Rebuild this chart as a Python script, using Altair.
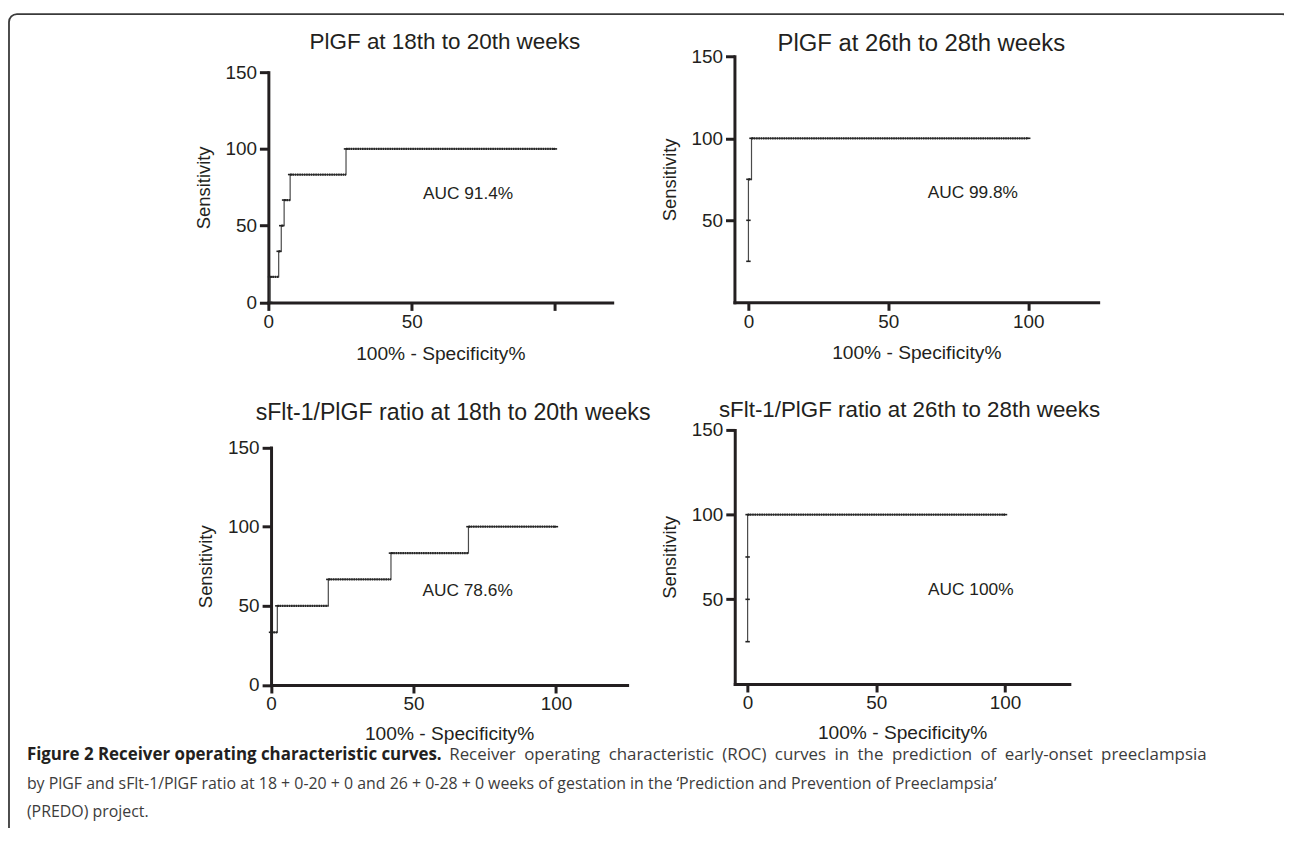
import altair as alt
import pandas as pd

# ---------------- data ----------------
# ROC points: x = 100% - Specificity%, y = Sensitivity
p1_fpr = [0.6, 0.6, 3.6, 4.5, 5.5, 7.6, 27.1, 100]
p1_sens = [0, 16.7, 33.3, 50, 66.7, 83.3, 100, 100]

p2_fpr = [0, 0, 0, 1.1, 100]
p2_sens = [25, 50, 75, 100, 100]

p3_fpr = [0, 2.2, 20.1, 42.1, 69.3, 100]
p3_sens = [33.3, 50, 66.7, 83.3, 100, 100]

p4_fpr = [0, 0, 0, 0, 100]
p4_sens = [25, 50, 75, 100, 100]

titles = [
    "PlGF at 18th to 20th weeks",
    "PlGF at 26th to 28th weeks",
    "sFlt-1/PlGF ratio at 18th to 20th weeks",
    "sFlt-1/PlGF ratio at 26th to 28th weeks",
]
auc_labels = ["AUC 91.4%", "AUC 99.8%", "AUC 78.6%", "AUC 100%"]

x_title = "100% - Specificity%"
y_title = "Sensitivity"

caption_bold = "Figure 2 Receiver operating characteristic curves."
# first caption line is justified in the original (slightly wider word gaps)
caption_first = "\u2002".join(
    "Receiver operating characteristic (ROC) curves in the prediction of early-onset preeclampsia".split(" "))
caption_lines = [
    caption_first,
    "by PlGF and sFlt-1/PlGF ratio at 18 + 0-20 + 0 and 26 + 0-28 + 0 weeks of gestation in the \u2018Prediction and Prevention of Preeclampsia\u2019",
    "(PREDO) project.",
]

# ---------------- layout ----------------
W, H = 1284, 820
AX = "#231f20"
FONT = "Liberation Sans"

panels = [
    dict(fpr=p1_fpr, sens=p1_sens, xdom=[0, 120], xr=[262, 608], ydom=[0, 150], yr=[293.7, 62],
         xvals=[0, 50, 100], yvals=[0, 50, 100, 150], hide100=True, tpad=13,
         title_xy=(61.6, 169.8), title_size=22.6, auc_xy=(69.7, 70.5)),
    dict(fpr=p2_fpr, sens=p2_sens, xdom=[-5, 125], xr=[731, 1097], ydom=[0, 150], yr=[293.6, 46],
         xvals=[0, 50, 100], yvals=[50, 100, 150], hide100=False, tpad=13,
         title_xy=(61.8, 157.2), title_size=24, auc_xy=(80.2, 66.7)),
    dict(fpr=p3_fpr, sens=p3_sens, xdom=[0, 125], xr=[264.7, 623], ydom=[0, 150], yr=[678.7, 439.7],
         xvals=[0, 50, 100], yvals=[0, 50, 100, 150], hide100=False, tpad=11,
         title_xy=(63.9, 172.0), title_size=23.3, auc_xy=(69.0, 59.6)),
    dict(fpr=p4_fpr, sens=p4_sens, xdom=[-5, 125], xr=[731.3, 1068], ydom=[0, 150], yr=[677.7, 422],
         xvals=[0, 50, 100], yvals=[50, 100, 150], hide100=False, tpad=11,
         title_xy=(62.9, 161.7), title_size=22.5, auc_xy=(86.7, 55.2)),
]


def make_panel(i, p):
    pts = pd.DataFrame({"fpr": p["fpr"], "sens": p["sens"]})
    sx, sx2, sy = [], [], []
    for k in range(len(p["fpr"]) - 1):
        if p["fpr"][k + 1] > p["fpr"][k]:
            sx.append(p["fpr"][k])
            sx2.append(p["fpr"][k + 1])
            sy.append(p["sens"][k])
    segs = pd.DataFrame({"fpr": sx, "fpr2": sx2, "sens": sy})

    xs = alt.Scale(domain=p["xdom"], range=p["xr"], nice=False, zero=False)
    ys = alt.Scale(domain=p["ydom"], range=p["yr"], nice=False, zero=False)
    common = dict(grid=False, domainColor=AX, domainWidth=3, domainCap="square",
                  tickColor=AX, tickWidth=3,
                  labelFont=FONT, labelFontSize=19, labelColor=AX,
                  titleFont=FONT, titleFontWeight="normal", titleColor=AX)
    xaxis = alt.Axis(orient="bottom", offset=p["yr"][0] - H, values=p["xvals"], labelFlush=False,
                     labelExpr="datum.value == 100 ? '' : datum.label" if p["hide100"] else "datum.label",
                     tickSize=8, labelPadding=2, titleFontSize=19.3, titlePadding=p["tpad"], **common)
    yaxis = alt.Axis(orient="left", offset=-p["xr"][0], values=p["yvals"], tickSize=9, labelPadding=3,
                     titleFontSize=18.5, titlePadding=12, **common)

    X = lambda f: alt.X(f, type="quantitative", scale=xs, axis=xaxis, title=x_title)
    Y = lambda f: alt.Y(f, type="quantitative", scale=ys, axis=yaxis, title=y_title)

    line = alt.Chart(pts).mark_line(interpolate="step-after", color="#4a4a4a", strokeWidth=1.2).encode(
        x=X("fpr"), y=Y("sens"))
    marks = alt.Chart(pts).mark_point(shape="stroke", size=20, strokeWidth=1.6, color="#222",
                                      filled=False, opacity=1).encode(x=X("fpr"), y=Y("sens"))
    dots = alt.Chart(segs).mark_rule(strokeWidth=2.2, strokeDash=[1.6, 0.7], color="#262626").encode(
        x=X("fpr"), x2="fpr2", y=Y("sens"))

    ann = pd.DataFrame({"label": [auc_labels[i]], "ax": [p["auc_xy"][0]], "ay": [p["auc_xy"][1]],
                        "title": [titles[i]], "tx": [p["title_xy"][0]], "ty": [p["title_xy"][1]]})
    auc = alt.Chart(ann).mark_text(font=FONT, fontSize=17.4, color=AX, baseline="middle").encode(
        x=X("ax"), y=Y("ay"), text="label:N")
    ttl = alt.Chart(ann).mark_text(font=FONT, fontSize=p["title_size"], color=AX, baseline="middle").encode(
        x=X("tx"), y=Y("ty"), text="title:N")
    return alt.layer(line, dots, marks, auc, ttl)


layers = [make_panel(i, p) for i, p in enumerate(panels)]

cap_b = alt.Chart(pd.DataFrame({"t": [caption_bold]})).mark_text(
    align="left", baseline="middle", font="Open Sans", fontSize=17,
    fontWeight="bold", color=AX).encode(x=alt.value(19), y=alt.value(749), text="t:N")
cap_charts = [cap_b]
cap_pos = [(444, 749, 17), (19, 778, 16), (19, 807, 16)]
for txt, (cx, cy, fs) in zip(caption_lines, cap_pos):
    cap_charts.append(
        alt.Chart(pd.DataFrame({"t": [txt]})).mark_text(
            align="left", baseline="middle", font="Open Sans", fontSize=fs, color="#3c3c3c").encode(
            x=alt.value(cx), y=alt.value(cy), text="t:N"))

frame = alt.Chart(pd.DataFrame({"a": [0]})).mark_rect(
    cornerRadius=8, fillOpacity=0, stroke="#3a3a3a", strokeWidth=1.8).encode(
    x=alt.value(1), x2=alt.value(1290), y=alt.value(3.5), y2=alt.value(900))

chart = alt.layer(frame, *layers, *cap_charts).resolve_scale(
    x="independent", y="independent"
).properties(
    width=W, height=H, padding=0, autosize=alt.AutoSizeParams(type="none")
).configure_view(stroke=None)

chart.save("out.html", embed_options={"renderer": "svg", "actions": False})
